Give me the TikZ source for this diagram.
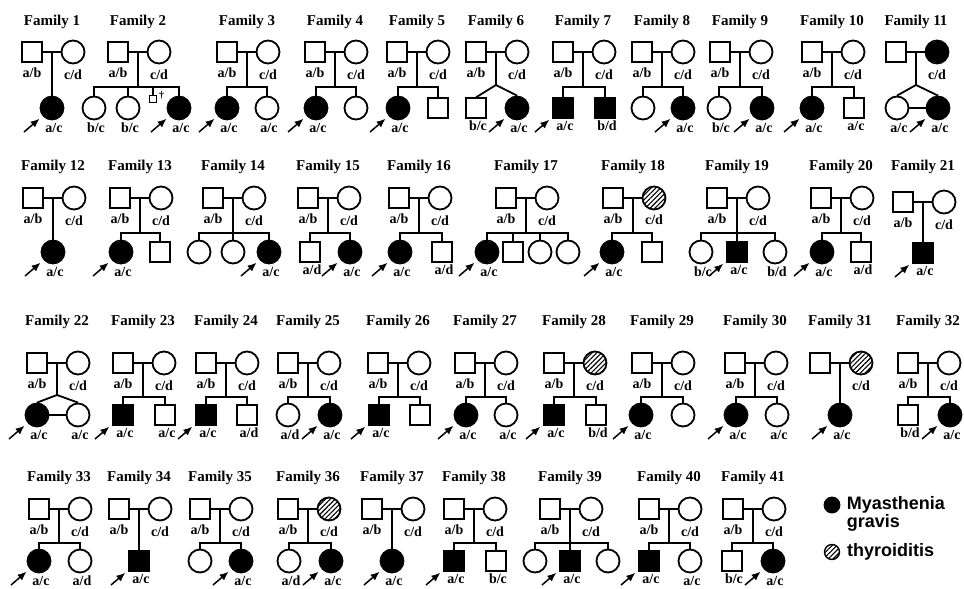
\documentclass[tikz,border=0pt]{standalone}
\usepackage{fontspec}
\setmainfont{Liberation Serif}
\setsansfont{Liberation Sans}
\usepackage{tikz}
\usetikzlibrary{arrows.meta, positioning, patterns.meta}

% heights of one row of families: title, parents, sibship line, children
\newcommand{\setrow}[4]{\def\ty{#1}\def\py{#2}\def\sy{#3}\def\cy{#4}}
% parents of family #1, descent line at x=#2
\newcommand{\couple}[4]{%
  \node[famtitle] (t#1) at (#2,\ty) {Family #1};
  \node[male, #3] (f#1) at (#2-20,\py) {};
  \node[female, #4] (m#1) at (#2+21,\py) {};
  \draw (f#1) -- (m#1);
  \coordinate (v#1) at (#2,\py);
  \coordinate (s#1) at (#2,\sy);
}
\newcommand{\kid}[3]{\node[#3] (#1) at (#2,\cy) {};}
\newcommand{\kids}[2]{%
  \draw (v#1) -- (s#1);
  \foreach \k in {#2} {\draw (s#1) -| (\k);}
}
\newcommand{\twins}[3]{%
  \coordinate (a#1) at ([yshift=2pt]s#1);
  \draw (v#1) -- (a#1);
  \draw (#2.north) -- (a#1) -- (#3.north);
}
\newcommand{\lab}[2]{\node[lbl, below=3pt of #1] (l#1) {#2};}
\newcommand{\klab}[2]{\node[lbl, below=0.5pt of #1, xshift=2pt] (l#1) {#2};}
\newcommand{\proband}[1]{%
  \coordinate (p#1) at ([shift={(-28,24)}]#1.center);
  \draw[proband] (p#1) -- (#1);
}

\begin{document}
\begin{tikzpicture}[x=1pt, y=-1pt, line width=1.8pt,
    male/.style={draw, rectangle, minimum size=19.5pt, inner sep=0pt},
    female/.style={draw, circle, minimum size=23pt, inner sep=0pt},
    affected/.style={fill=black},
    thyroid/.style={pattern={Lines[angle=45, distance=3.4pt, line width=1.1pt]}},
    deceased/.style={draw, rectangle, minimum size=7pt, inner sep=0pt, line width=1.3pt},
    famtitle/.style={font=\fontsize{15}{15}\selectfont\bfseries},
    lbl/.style={font=\fontsize{14}{14}\selectfont\bfseries, inner sep=1pt},
    legend/.style={font=\fontsize{18}{18}\selectfont\sffamily\bfseries, inner sep=0pt, align=left},
    proband/.style={-{Latex[length=9pt, width=7.5pt]}, line width=1.5pt, shorten >=4pt}]
    \useasboundingbox (0,0) rectangle (964,589);

    % ---- first row ----
    \setrow{22}{52}{87}{108}
    % Family 1
    \couple{1}{52}{}{}
    \lab{f1}{a/b} \lab{m1}{c/d}
    \kid{c1a}{52}{female, affected}
    \kids{1}{c1a}
    \klab{c1a}{a/c} \proband{c1a}

    % Family 2
    \couple{2}{138}{}{}
    \lab{f2}{a/b} \lab{m2}{c/d}
    \kid{c2a}{94}{female} \kid{c2b}{128}{female} \kid{c2d}{179}{female, affected}
    \node[deceased] (c2c) at (153,99) {};
    \node[lbl, font=\fontsize{10}{10}\selectfont\bfseries, right=0pt of c2c, yshift=3pt] (d2) {\textdagger};
    \kids{2}{c2a,c2b,c2c,c2d}
    \klab{c2a}{b/c} \klab{c2b}{b/c} \klab{c2d}{a/c} \proband{c2d}

    % Family 3
    \couple{3}{247}{}{}
    \lab{f3}{a/b} \lab{m3}{c/d}
    \kid{c3a}{227}{female, affected} \kid{c3b}{267}{female}
    \kids{3}{c3a,c3b}
    \klab{c3a}{a/c} \klab{c3b}{a/c} \proband{c3a}

    % Family 4
    \couple{4}{335}{}{}
    \lab{f4}{a/b} \lab{m4}{c/d}
    \kid{c4a}{316}{female, affected} \kid{c4b}{356}{female}
    \kids{4}{c4a,c4b}
    \klab{c4a}{a/c} \proband{c4a}

    % Family 5
    \couple{5}{417}{}{}
    \lab{f5}{a/b} \lab{m5}{c/d}
    \kid{c5a}{398}{female, affected} \kid{c5b}{438}{male}
    \kids{5}{c5a,c5b}
    \klab{c5a}{a/c} \proband{c5a}

    % Family 6 (twins)
    \couple{6}{496}{}{}
    \lab{f6}{a/b} \lab{m6}{c/d}
    \kid{c6a}{476}{male} \kid{c6b}{517}{female, affected}
    \twins{6}{c6a}{c6b}
    \klab{c6a}{b/c} \klab{c6b}{a/c} \proband{c6b}

    % Family 7
    \couple{7}{583}{}{}
    \lab{f7}{a/b} \lab{m7}{c/d}
    \kid{c7a}{563}{male, affected} \kid{c7b}{605}{male, affected}
    \kids{7}{c7a,c7b}
    \klab{c7a}{a/c} \klab{c7b}{b/d} \proband{c7a}

    % Family 8
    \couple{8}{662}{}{}
    \lab{f8}{a/b} \lab{m8}{c/d}
    \kid{c8a}{643}{female} \kid{c8b}{683}{female, affected}
    \kids{8}{c8a,c8b}
    \klab{c8b}{a/c} \proband{c8b}

    % Family 9
    \couple{9}{740}{}{}
    \lab{f9}{a/b} \lab{m9}{c/d}
    \kid{c9a}{719}{female} \kid{c9b}{762}{female, affected}
    \kids{9}{c9a,c9b}
    \klab{c9a}{b/c} \klab{c9b}{a/c} \proband{c9b}

    % Family 10
    \couple{10}{832}{}{}
    \lab{f10}{a/b} \lab{m10}{c/d}
    \kid{c10a}{812}{female, affected} \kid{c10b}{854}{male}
    \kids{10}{c10a,c10b}
    \klab{c10a}{a/c} \klab{c10b}{a/c} \proband{c10a}

    % Family 11 (identical twins)
    \couple{11}{916}{}{affected}
    \lab{m11}{c/d}
    \kid{c11a}{897}{female} \kid{c11b}{938}{female, affected}
    \twins{11}{c11a}{c11b}
    \draw (c11a) -- (c11b);
    \klab{c11a}{a/c} \klab{c11b}{a/c} \proband{c11b}

    % ---- second row ----
    \setrow{167}{198}{233}{252}
    % Family 12
    \couple{12}{53}{}{}
    \lab{f12}{a/b} \lab{m12}{c/d}
    \kid{c12a}{53}{female, affected}
    \kids{12}{c12a}
    \klab{c12a}{a/c} \proband{c12a}

    % Family 13
    \couple{13}{140}{}{}
    \lab{f13}{a/b} \lab{m13}{c/d}
    \kid{c13a}{121}{female, affected} \kid{c13b}{160}{male}
    \kids{13}{c13a,c13b}
    \klab{c13a}{a/c} \proband{c13a}

    % Family 14
    \couple{14}{233}{}{}
    \lab{f14}{a/b} \lab{m14}{c/d}
    \kid{c14a}{199}{female} \kid{c14b}{233}{female} \kid{c14c}{269}{female, affected}
    \kids{14}{c14a,c14b,c14c}
    \klab{c14c}{a/c} \proband{c14c}

    % Family 15
    \couple{15}{328}{}{}
    \lab{f15}{a/b} \lab{m15}{c/d}
    \kid{c15a}{310}{male} \kid{c15b}{350}{female, affected}
    \kids{15}{c15a,c15b}
    \klab{c15a}{a/d} \klab{c15b}{a/c} \proband{c15b}

    % Family 16
    \couple{16}{419}{}{}
    \lab{f16}{a/b} \lab{m16}{c/d}
    \kid{c16a}{400}{female, affected} \kid{c16b}{442}{male}
    \kids{16}{c16a,c16b}
    \klab{c16a}{a/c} \klab{c16b}{a/d} \proband{c16a}

    % Family 17
    \couple{17}{526}{}{}
    \lab{f17}{a/b} \lab{m17}{c/d}
    \kid{c17a}{487}{female, affected} \kid{c17b}{513}{male}
    \kid{c17c}{540}{female} \kid{c17d}{568}{female}
    \kids{17}{c17a,c17b,c17c,c17d}
    \klab{c17a}{a/c} \proband{c17a}

    % Family 18
    \couple{18}{633}{}{thyroid}
    \lab{f18}{a/b} \lab{m18}{c/d}
    \kid{c18a}{612}{female, affected} \kid{c18b}{652}{male}
    \kids{18}{c18a,c18b}
    \klab{c18a}{a/c} \proband{c18a}

    % Family 19
    \couple{19}{737}{}{}
    \lab{f19}{a/b} \lab{m19}{c/d}
    \kid{c19a}{701}{female} \kid{c19b}{737}{male, affected} \kid{c19c}{775}{female}
    \kids{19}{c19a,c19b,c19c}
    \klab{c19a}{b/c} \klab{c19b}{a/c} \klab{c19c}{b/d} \proband{c19b}

    % Family 20
    \couple{20}{841}{}{}
    \lab{f20}{a/b} \lab{m20}{c/d}
    \kid{c20a}{822}{female, affected} \kid{c20b}{861}{male}
    \kids{20}{c20a,c20b}
    \klab{c20a}{a/c} \klab{c20b}{a/d} \proband{c20a}

    % Family 21
    \setrow{167}{202}{233}{253}
    \couple{21}{923}{}{}
    \lab{f21}{a/b} \lab{m21}{c/d}
    \kid{c21a}{923}{male, affected}
    \kids{21}{c21a}
    \klab{c21a}{a/c} \proband{c21a}

    % ---- third row ----
    \setrow{322}{363}{397}{415}
    % Family 22 (identical twins)
    \couple{22}{57}{}{}
    \lab{f22}{a/b} \lab{m22}{c/d}
    \kid{c22a}{37}{female, affected} \kid{c22b}{78}{female}
    \twins{22}{c22a}{c22b}
    \draw (c22a) -- (c22b);
    \klab{c22a}{a/c} \klab{c22b}{a/c} \proband{c22a}

    % Family 23
    \couple{23}{143}{}{}
    \lab{f23}{a/b} \lab{m23}{c/d}
    \kid{c23a}{123}{male, affected} \kid{c23b}{165}{male}
    \kids{23}{c23a,c23b}
    \klab{c23a}{a/c} \klab{c23b}{a/c} \proband{c23a}

    % Family 24
    \couple{24}{226}{}{}
    \lab{f24}{a/b} \lab{m24}{c/d}
    \kid{c24a}{206}{male, affected} \kid{c24b}{247}{male}
    \kids{24}{c24a,c24b}
    \klab{c24a}{a/c} \klab{c24b}{a/d} \proband{c24a}

    % Family 25
    \couple{25}{308}{}{}
    \lab{f25}{a/b} \lab{m25}{c/d}
    \kid{c25a}{288}{female} \kid{c25b}{330}{female, affected}
    \kids{25}{c25a,c25b}
    \klab{c25a}{a/d} \klab{c25b}{a/c} \proband{c25b}

    % Family 26
    \couple{26}{398}{}{}
    \lab{f26}{a/b} \lab{m26}{c/d}
    \kid{c26a}{379}{male, affected} \kid{c26b}{420}{male}
    \kids{26}{c26a,c26b}
    \klab{c26a}{a/c} \proband{c26a}

    % Family 27
    \couple{27}{485}{}{}
    \lab{f27}{a/b} \lab{m27}{c/d}
    \kid{c27a}{466}{female, affected} \kid{c27b}{506}{female}
    \kids{27}{c27a,c27b}
    \klab{c27a}{a/c} \klab{c27b}{a/c} \proband{c27a}

    % Family 28
    \couple{28}{574}{}{thyroid}
    \lab{f28}{a/b} \lab{m28}{c/d}
    \kid{c28a}{554}{male, affected} \kid{c28b}{596}{male}
    \kids{28}{c28a,c28b}
    \klab{c28a}{a/c} \klab{c28b}{b/d} \proband{c28a}

    % Family 29
    \couple{29}{662}{}{}
    \lab{f29}{a/b} \lab{m29}{c/d}
    \kid{c29a}{641}{female, affected} \kid{c29b}{683}{female}
    \kids{29}{c29a,c29b}
    \klab{c29a}{a/c} \proband{c29a}

    % Family 30
    \couple{30}{755}{}{}
    \lab{f30}{a/b} \lab{m30}{c/d}
    \kid{c30a}{736}{female, affected} \kid{c30b}{777}{female}
    \kids{30}{c30a,c30b}
    \klab{c30a}{a/c} \klab{c30b}{a/c} \proband{c30a}

    % Family 31
    \couple{31}{840}{}{thyroid}
    \lab{m31}{c/d}
    \kid{c31a}{840}{female, affected}
    \kids{31}{c31a}
    \klab{c31a}{a/c} \proband{c31a}

    % Family 32
    \couple{32}{928}{}{}
    \lab{f32}{a/b} \lab{m32}{c/d}
    \kid{c32a}{908}{male} \kid{c32b}{950}{female, affected}
    \kids{32}{c32a,c32b}
    \klab{c32a}{b/d} \klab{c32b}{a/c} \proband{c32b}

    % ---- fourth row ----
    \setrow{478}{509}{543}{561}
    % Family 33
    \couple{33}{59}{}{}
    \lab{f33}{a/b} \lab{m33}{c/d}
    \kid{c33a}{39}{female, affected} \kid{c33b}{80}{female}
    \kids{33}{c33a,c33b}
    \klab{c33a}{a/c} \klab{c33b}{a/d} \proband{c33a}

    % Family 34
    \couple{34}{139}{}{}
    \lab{f34}{a/b} \lab{m34}{c/d}
    \kid{c34a}{139}{male, affected}
    \kids{34}{c34a}
    \klab{c34a}{a/c} \proband{c34a}

    % Family 35
    \couple{35}{220}{}{}
    \lab{f35}{a/b} \lab{m35}{c/d}
    \kid{c35a}{200}{female} \kid{c35b}{241}{female, affected}
    \kids{35}{c35a,c35b}
    \klab{c35b}{a/c} \proband{c35b}

    % Family 36
    \couple{36}{308}{}{thyroid}
    \lab{f36}{a/b} \lab{m36}{c/d}
    \kid{c36a}{289}{female} \kid{c36b}{331}{female, affected}
    \kids{36}{c36a,c36b}
    \klab{c36a}{a/d} \klab{c36b}{a/c} \proband{c36b}

    % Family 37
    \couple{37}{392}{}{}
    \lab{f37}{a/b} \lab{m37}{c/d}
    \kid{c37a}{392}{female, affected}
    \kids{37}{c37a}
    \klab{c37a}{a/c} \proband{c37a}

    % Family 38
    \couple{38}{474}{}{}
    \lab{f38}{a/b} \lab{m38}{c/d}
    \kid{c38a}{454}{male, affected} \kid{c38b}{496}{male}
    \kids{38}{c38a,c38b}
    \klab{c38a}{a/c} \klab{c38b}{b/c} \proband{c38a}

    % Family 39
    \couple{39}{570}{}{}
    \lab{f39}{a/b} \lab{m39}{c/d}
    \kid{c39a}{535}{female} \kid{c39b}{570}{male, affected} \kid{c39c}{608}{female}
    \kids{39}{c39a,c39b,c39c}
    \klab{c39b}{a/c} \proband{c39b}

    % Family 40
    \couple{40}{669}{}{}
    \lab{f40}{a/b} \lab{m40}{c/d}
    \kid{c40a}{649}{male, affected} \kid{c40b}{690}{female}
    \kids{40}{c40a,c40b}
    \klab{c40a}{a/c} \klab{c40b}{a/c} \proband{c40a}

    % Family 41
    \couple{41}{753}{}{}
    \lab{f41}{a/b} \lab{m41}{c/d}
    \kid{c41a}{732}{male} \kid{c41b}{773}{female, affected}
    \kids{41}{c41a,c41b}
    \klab{c41a}{b/c} \klab{c41b}{a/c} \proband{c41b}

    % Key
    \node[female, affected, minimum size=15pt] (keymg) at (832,505) {};
    \node[legend, anchor=west] (keymgt) at (846,514) {Myasthenia\\gravis};
    \node[female, thyroid, minimum size=15pt, line width=1.4pt] (keyth) at (832,552) {};
    \node[legend, right=6pt of keyth] (keytht) {thyroiditis};
\end{tikzpicture}
\end{document}
